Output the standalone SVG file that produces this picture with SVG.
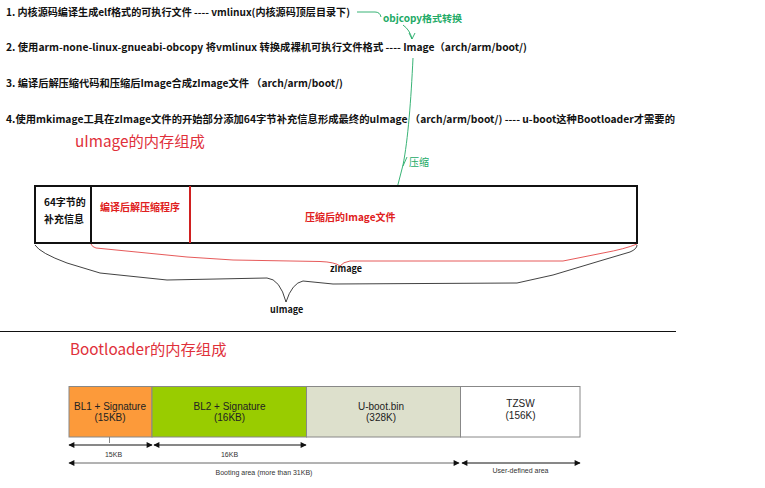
<svg xmlns="http://www.w3.org/2000/svg" width="765" height="488" viewBox="0 0 765 488">
<style>
.step{font-family:"Noto Sans CJK SC","Noto Sans",sans-serif;font-size:10px;font-weight:bold;fill:#111}
.title{font-family:"Noto Sans CJK SC","Noto Sans",sans-serif;font-size:15.3px;fill:#e0303a}
.red{font-family:"Noto Sans CJK SC","Noto Sans",sans-serif;font-size:10px;font-weight:bold;fill:#e02020}
.blk{font-family:"Noto Sans CJK SC","Noto Sans",sans-serif;font-size:10px;font-weight:bold;fill:#111}
.green{font-family:"Noto Sans CJK SC","Noto Sans",sans-serif;font-size:9.5px;font-weight:bold;fill:#22aa66}
.seg{font-family:"Liberation Sans",Arial,sans-serif;font-size:10px;fill:#222;text-anchor:middle}
.dim{font-family:"Liberation Sans",Arial,sans-serif;font-size:7px;fill:#333;text-anchor:middle}
.gl{fill:none;stroke:#22aa66;stroke-width:0.9}
.box{stroke:#888;stroke-width:1}
.arr{stroke:#111;stroke-width:1;marker-start:url(#ah);marker-end:url(#ah)}
</style>
<defs>
<marker id="ah" viewBox="0 0 10 10" refX="9" refY="5" markerWidth="7" markerHeight="6" markerUnits="userSpaceOnUse" orient="auto-start-reverse">
<path d="M0,0 L10,5 L0,10 z" fill="#111"/>
</marker>
</defs>
<rect width="765" height="488" fill="#fff"/>

<g id="steps">
<text class="step" x="6" y="16" textLength="344" lengthAdjust="spacingAndGlyphs">1. 内核源码编译生成elf格式的可执行文件 ---- vmlinux(内核源码顶层目录下)</text>
<text class="step" x="6" y="50.5" textLength="521" lengthAdjust="spacingAndGlyphs">2. 使用arm-none-linux-gnueabi-obcopy 将vmlinux 转换成裸机可执行文件格式 ---- Image（arch/arm/boot/)</text>
<text class="step" x="6" y="87" textLength="337" lengthAdjust="spacingAndGlyphs">3. 编译后解压缩代码和压缩后Image合成zImage文件 （arch/arm/boot/)</text>
<text class="step" x="6" y="122.5" textLength="669" lengthAdjust="spacingAndGlyphs">4.使用mkimage工具在zImage文件的开始部分添加64字节补充信息形成最终的uImage （arch/arm/boot/)  ---- u-boot这种Bootloader才需要的</text>
</g>

<g id="connectors">
<path class="gl" d="M357,12 L375,12 Q380,12 381,17"/>
<path class="gl" d="M403,25 Q410,30 412,39"/>
<path class="gl" d="M409,33 L412,39 L415,33"/>
<path class="gl" d="M413,58 C411,100 408,140 403,165 L395,196"/>
<path class="gl" d="M407,157 L403,166"/>
<path fill="none" stroke="#e03030" stroke-width="0.8" d="M91,244 Q92,247 96,248 L187,257 L233,260 L320,261.5 Q335,262 340,266 Q343,262 350,261 L563,261 L603,253 Q625,249 637,244"/>
<path fill="none" stroke="#111" stroke-width="0.8" d="M35,245 Q40,253 67,263 L100,273 L167,280 L267,278 Q280,279 286,302 Q292,283 303,281 L313,282 L333,284 L517,283 L553,275 L603,260 L630,252 Q637,249 637,245"/>
<line x1="109.5" y1="437" x2="109.5" y2="443" stroke="#888" stroke-width="1"/>
<path class="arr" d="M69,445 L152,445"/>
<path class="arr" d="M154,445 L306,445"/>
<path class="arr" d="M69,463 L459,463" style="stroke:#666"/>
<path class="arr" d="M462,463 L580,463"/>
</g>

<g id="labels">
<text class="green" x="383" y="21.5" textLength="79" lengthAdjust="spacingAndGlyphs">objcopy格式转换</text>
<text class="green" x="409" y="165.5" style="font-weight:normal;font-size:10px">压缩</text>
<text class="title" x="75" y="147">uImage的内存组成</text>
<text class="title" x="70" y="355">Bootloader的内存组成</text>
<text class="blk" x="330" y="272" style="font-size:9px">zImage</text>
<text class="blk" x="270" y="313" style="font-size:9px">uImage</text>
</g>

<g id="uimage">
<rect x="35" y="186" width="602" height="57" fill="#fff" stroke="#111" stroke-width="2"/>
<line x1="91" y1="186" x2="91" y2="243" stroke="#111" stroke-width="2"/>
<line x1="190" y1="186" x2="190" y2="243" stroke="#d02020" stroke-width="2"/>
<text class="blk" x="44" y="205.5">64字节的</text>
<text class="blk" x="44" y="223">补充信息</text>
<text class="red" x="100" y="211">编译后解压缩程序</text>
<text class="red" x="305" y="220.5">压缩后的Image文件</text>
</g>

<line id="divider" x1="0" y1="331.5" x2="676" y2="331.5" stroke="#111" stroke-width="1"/>

<g id="bl1">
<rect class="box" x="69" y="386.5" width="83" height="50.5" fill="#fc9a3a"/>
<text class="seg" x="110" y="409.5">BL1 + Signature</text>
<text class="seg" x="110" y="420.5">(15KB)</text>
</g>
<g id="bl2">
<rect class="box" x="152" y="386.5" width="154.5" height="50.5" fill="#99cc00"/>
<text class="seg" x="229.5" y="409.5">BL2 + Signature</text>
<text class="seg" x="229.5" y="420.5">(16KB)</text>
</g>
<g id="uboot">
<rect class="box" x="306.5" y="386.5" width="154" height="50.5" fill="#dde0cc"/>
<text class="seg" x="381" y="409.5">U-boot.bin</text>
<text class="seg" x="381" y="420.5">(328K)</text>
</g>
<g id="tzsw">
<rect class="box" x="460.5" y="386.5" width="119.5" height="50.5" fill="#fff"/>
<text class="seg" x="520.5" y="407">TZSW</text>
<text class="seg" x="520.5" y="418.5">(156K)</text>
</g>

<g id="dims">
<text class="dim" x="113.5" y="456.5">15KB</text>
<text class="dim" x="229.5" y="456.5">16KB</text>
<text class="dim" x="264" y="474.5">Booting area (more than 31KB)</text>
<text class="dim" x="520.5" y="472.5">User-defined area</text>
</g>
</svg>
